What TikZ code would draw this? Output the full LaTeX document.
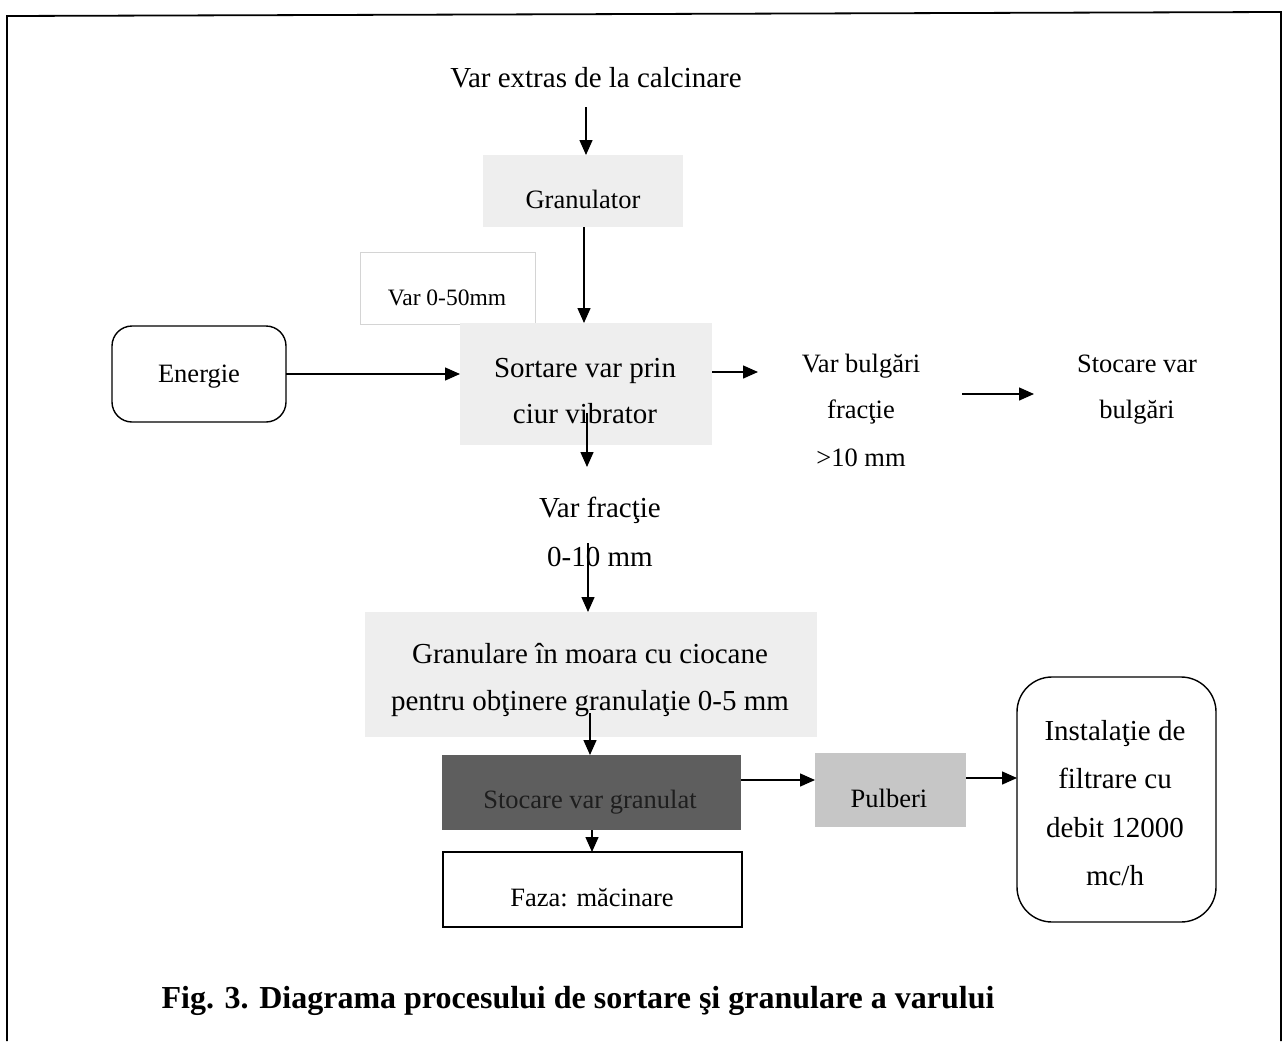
\documentclass[tikz,border=0pt]{standalone}
\usepackage{fontspec}
\setmainfont{Liberation Serif}
\usetikzlibrary{arrows.meta}
\definecolor{lightfill}{HTML}{EEEEEE}
\definecolor{darkfill}{HTML}{5E5E5E}
\definecolor{darktext}{HTML}{1E1E1E}
\definecolor{midfill}{HTML}{C6C6C6}
\definecolor{faintline}{HTML}{D4D4D4}
\begin{document}
\begin{tikzpicture}[x=1pt,y=-1pt,
  every node/.style={inner sep=0pt, outer sep=0pt},
  big/.style={font=\fontsize{29}{35}\selectfont, anchor=base},
  mid/.style={font=\fontsize{26.5}{32}\selectfont, anchor=base},
  small/.style={font=\fontsize{23.5}{28}\selectfont, anchor=base},
  lightbox/.style={fill=lightfill, draw=none},
  arr/.style={line width=1.4pt, -{Triangle[length=15pt,width=13pt]}},
  frame/.style={line width=1.8pt}
]
\useasboundingbox (0,0) rectangle (1287,1041);
\draw[frame] (7,1041) -- (7,16) -- (1281,12) -- (1281,1041);

% top source
\node[big] (src) at (596,87) {Var extras de la calcinare};
\coordinate (srcout) at (586,107);

% granulator
\node[lightbox, minimum width=200pt, minimum height=72pt] (gran) at (583,191) {};
\node[mid] (granT) at (583,208) {Granulator};

% var 0-50 box
\node[draw=faintline, line width=0.8pt, minimum width=175pt, minimum height=72pt] (v050) at (447.5,288) {};
\node[small] (v050T) at (447,305) {Var 0-50mm};

% sortare
\node[lightbox, minimum width=252pt, minimum height=122pt] (sort) at (586,384) {};
\node[big] (sortT1) at (585,377) {Sortare var prin};
\node[big] (sortT2) at (585,423) {ciur vibrator};

% energie
\node[draw, line width=1.4pt, rounded corners=20pt, minimum width=174pt, minimum height=96pt] (en) at (199,374) {};
\node[mid] (enT) at (199,382) {Energie};

% var bulgari
\node[mid] (bulg1) at (861,372) {Var bulgări};
\node[mid] (bulg2) at (861,418) {fracţie};
\node[mid] (bulg3) at (861,466) {>10 mm};
\coordinate (bulgin) at (758,372);
\coordinate (bulgout) at (962,394);
\coordinate (stocin) at (1034,394);

% stocare var bulgari
\node[mid] (stoc1) at (1137,372) {Stocare var};
\node[mid] (stoc2) at (1137,418) {bulgări};

% var fractie
\coordinate (sortout) at (587,413);
\coordinate (fracin) at (587,467);
\node[big] (frac1) at (600,517) {Var fracţie};
\node[big] (frac2) at (600,566) {0-10 mm};
\coordinate (fracout) at (588,543);

% granulare
\node[lightbox, minimum width=452pt, minimum height=125pt] (gm) at (591,674.5) {};
\node[big] (gmT1) at (590,663) {Granulare în moara cu ciocane};
\node[big] (gmT2) at (590,710) {pentru obţinere granulaţie 0-5 mm};
\coordinate (gmout) at (590,713);

% stocare var granulat
\node[fill=darkfill, minimum width=299pt, minimum height=75pt] (sg) at (591.5,792.5) {};
\node[mid, text=darktext] (sgT) at (590,808) {Stocare var granulat};

% pulberi
\node[fill=midfill, minimum width=151pt, minimum height=74pt] (pul) at (890.5,790) {};
\node[mid] (pulT) at (889,807) {Pulberi};

% instalatie
\node[draw, line width=1.4pt, rounded corners=35pt, minimum width=199pt, minimum height=245pt] (inst) at (1116.5,799.5) {};
\node[big] (inst1) at (1115,740) {Instalaţie de};
\node[big] (inst2) at (1115,788) {filtrare cu};
\node[big] (inst3) at (1115,837) {debit 12000};
\node[big] (inst4) at (1115,885) {mc/h};

% faza
\node[draw, line width=1.5pt, minimum width=299pt, minimum height=75pt] (faza) at (592.5,889.5) {};
\node[mid] (fazaT) at (592,906) {Faza: măcinare};

% caption
\node[font=\fontsize{32}{38}\selectfont\bfseries, anchor=base] (cap) at (578,1008) {Fig. 3. Diagrama procesului de sortare şi granulare a varului};

% connectors
\draw[arr] (srcout) -- (srcout |- gran.north);
\draw[arr] (gran.south -| 584,0) -- (sort.north -| 584,0);
\draw[arr] (en.east) -- (en.east -| sort.west);
\draw[arr] (sort.east |- bulgin) -- (bulgin);
\draw[arr] (bulgout) -- (stocin);
\draw[arr] (sortout) -- (fracin);
\draw[arr] (fracout) -- (fracout |- gm.north);
\draw[arr] (gmout) -- (gmout |- sg.north);
\draw[arr] (sg.east |- 0,780) -- (pul.west |- 0,780);
\draw[arr] (pul.east |- 0,778) -- (inst.west |- 0,778);
\draw[arr] (sg.south -| 592,0) -- (faza.north -| 592,0);
\end{tikzpicture}
\end{document}
